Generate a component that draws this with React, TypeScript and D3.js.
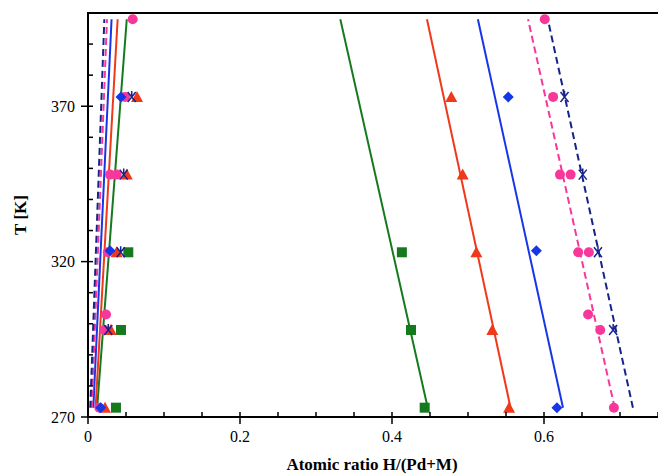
import React, { useEffect, useRef } from 'react';
import * as d3 from 'd3';

// temperature ends of the fitted lines [K]
const lineT = [273, 398];

// fitted lines, x at [273 K, 398 K]
const greenLow = [0.012, 0.051];
const greenHigh = [0.447, 0.332];
const redLow = [0.010, 0.039];
const redHigh = [0.556, 0.446];
const blueLow = [0.007, 0.031];
const blueHigh = [0.625, 0.513];
const pinkLow = [0.005, 0.025];
const pinkHigh = [0.693, 0.579];
const navyLow = [0.003, 0.0215];
const navyHigh = [0.717, 0.605];

// measured points [x, T]
const greenPts = [[0.0368, 273], [0.0434, 298], [0.053, 323], [0.443, 273], [0.425, 298], [0.413, 323]];
const redPts = [[0.0224, 273], [0.030, 298], [0.0377, 323], [0.051, 348], [0.0645, 373],
  [0.554, 273], [0.532, 298], [0.511, 323], [0.493, 348], [0.478, 373]];
const bluePts = [[0.0167, 273], [0.029, 323.5], [0.0434, 373], [0.617, 273], [0.590, 323.5], [0.553, 373]];
const pinkPts = [[0.0149, 273], [0.0215, 298], [0.0237, 303], [0.026, 323], [0.029, 348], [0.0377, 348],
  [0.0487, 373], [0.0588, 398], [0.692, 273], [0.674, 298], [0.658, 303], [0.645, 323], [0.659, 323],
  [0.621, 348], [0.635, 348], [0.612, 373], [0.601, 398]];
const navyPts = [[0.0267, 298], [0.043, 323], [0.047, 348], [0.0575, 373],
  [0.691, 298], [0.671, 323], [0.651, 348], [0.627, 373]];

const xTicks = [0, 0.2, 0.4, 0.6];
const yTicks = [270, 320, 370];

export default function App() {
  const ref = useRef<SVGSVGElement>(null);

  useEffect(() => {
    const svg = d3.select(ref.current);
    svg.selectAll('*').remove();

    const left = 88, top = 13, bottom = 417;
    const x = d3.scaleLinear().domain([0, 0.76]).range([left, left + 0.76 * 760]);
    const y = d3.scaleLinear().domain([270, 400]).range([bottom, top]);
    const font = '"Liberation Serif", "Times New Roman", serif';

    const series = [
      { color: '#157a1e', low: greenLow, high: greenHigh, pts: greenPts, shape: 'square', dash: null },
      { color: '#f0381a', low: redLow, high: redHigh, pts: redPts, shape: 'triangle', dash: null },
      { color: '#1736e6', low: blueLow, high: blueHigh, pts: bluePts, shape: 'diamond', dash: null },
      { color: '#f7379a', low: pinkLow, high: pinkHigh, pts: pinkPts, shape: 'circle', dash: '7,4' },
      { color: '#16238a', low: navyLow, high: navyHigh, pts: navyPts, shape: 'x', dash: '7,4' },
    ];

    // lines
    const line = d3.line<number>().x((d) => x(d[0])).y((d) => y(d[1]));
    series.forEach((s) => {
      [s.low, s.high].forEach((l) => {
        svg.append('path')
          .attr('d', line(l.map((v, i) => [v, lineT[i]]) as any))
          .attr('fill', 'none')
          .attr('stroke', s.color)
          .attr('stroke-width', 2)
          .attr('stroke-dasharray', s.dash);
      });
    });

    // markers
    const drawOrder = [0, 3, 1, 2, 4];
    drawOrder.forEach((k) => {
      const s = series[k];
      const g = svg.append('g');
      s.pts.forEach((p) => {
        const cx = x(p[0]), cy = y(p[1]);
        if (s.shape === 'square') {
          g.append('rect').attr('x', cx - 5).attr('y', cy - 5).attr('width', 10).attr('height', 10).attr('fill', s.color);
        } else if (s.shape === 'triangle') {
          g.append('path').attr('d', `M${cx},${cy - 6}L${cx + 6},${cy + 5}L${cx - 6},${cy + 5}Z`).attr('fill', s.color);
        } else if (s.shape === 'diamond') {
          g.append('path').attr('d', `M${cx},${cy - 5.5}L${cx + 5.5},${cy}L${cx},${cy + 5.5}L${cx - 5.5},${cy}Z`).attr('fill', s.color);
        } else if (s.shape === 'circle') {
          g.append('circle').attr('cx', cx).attr('cy', cy).attr('r', 5).attr('fill', s.color);
        } else {
          g.append('path')
            .attr('d', `M${cx - 4},${cy - 5}L${cx + 4},${cy + 5}M${cx + 4},${cy - 5}L${cx - 4},${cy + 5}M${cx},${cy - 6}L${cx},${cy + 1}`)
            .attr('stroke', s.color).attr('stroke-width', 1.5).attr('fill', 'none');
        }
      });
    });

    // frame
    svg.append('line').attr('x1', left - 1).attr('x2', 658).attr('y1', top).attr('y2', top)
      .attr('stroke', '#000').attr('stroke-width', 2);
    svg.append('line').attr('x1', left).attr('x2', left).attr('y1', top).attr('y2', bottom)
      .attr('stroke', '#000').attr('stroke-width', 2);
    svg.append('line').attr('x1', left - 1).attr('x2', 658).attr('y1', bottom).attr('y2', bottom)
      .attr('stroke', '#000').attr('stroke-width', 2);

    // x ticks
    d3.range(0, 0.76, 0.05).forEach((v) => {
      const major = xTicks.some((t) => Math.abs(t - v) < 1e-6);
      svg.append('line').attr('x1', x(v)).attr('x2', x(v))
        .attr('y1', major ? bottom - 5 : bottom - 5).attr('y2', major ? bottom + 7 : bottom)
        .attr('stroke', '#000').attr('stroke-width', 1.5);
    });
    xTicks.forEach((t) => {
      svg.append('text').attr('x', x(t)).attr('y', bottom + 25).attr('text-anchor', 'middle')
        .style('font', `16px ${font}`).text(t === 0 ? '0' : d3.format('.1f')(t));
    });

    // y ticks
    d3.range(270, 401, 10).forEach((v) => {
      const major = yTicks.includes(v);
      svg.append('line').attr('x1', major ? left - 7 : left).attr('x2', left + 5)
        .attr('y1', y(v)).attr('y2', y(v)).attr('stroke', '#000').attr('stroke-width', 1.5);
    });
    yTicks.forEach((t) => {
      svg.append('text').attr('x', left - 13).attr('y', y(t)).attr('dy', '0.35em').attr('text-anchor', 'end')
        .style('font', `16px ${font}`).text(t);
    });

    // axis titles
    svg.append('text').attr('x', 372).attr('y', 470).attr('text-anchor', 'middle')
      .style('font', `bold 17px ${font}`).text('Atomic ratio H/(Pd+M)');
    svg.append('text').attr('transform', `translate(26,${(top + bottom) / 2}) rotate(-90)`)
      .attr('text-anchor', 'middle').style('font', `bold 17px ${font}`).text('T [K]');
  }, []);

  return (
    <svg ref={ref} width={658} height={475}
      style={{ position: 'absolute', left: 0, top: 0, background: '#fff' }} />
  );
}
